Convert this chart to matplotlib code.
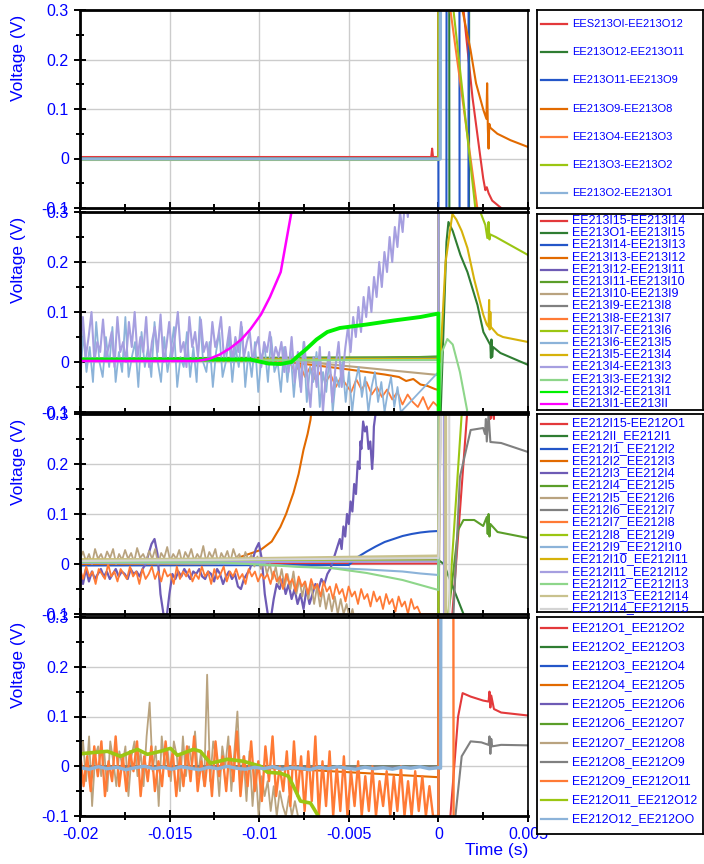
import numpy as np
import matplotlib.pyplot as plt
from matplotlib.ticker import MultipleLocator, FuncFormatter

plt.rcParams['font.family'] = ['Liberation Sans', 'DejaVu Sans']
plt.rcParams['axes.unicode_minus'] = False

# trace palette
RED = '#E3393B'
DKGREEN = '#2F7D32'
BLUE = '#2456C8'
ORANGE = '#E26A00'
PURPLE = '#6E5BB5'
GREEN = '#5B9E29'
TAN = '#B9A37F'
GRAY = '#808080'
LTORANGE = '#FF7A35'
YGREEN = '#9BC612'
LTBLUE = '#8CB3D9'
GOLD = '#D6B20A'
LAVENDER = '#A69FE0'
LTGREEN = '#8ED68A'
KHAKI = '#C9C28E'
LTGRAY = '#D4D4D4'
LIME = '#00F000'
MAGENTA = '#FF00FF'

# ---------------- panel 1 : EE213 outer ----------------
p1_labels = ['EES213OI-EE213O12', 'EE213O12-EE213O11', 'EE213O11-EE213O9', 'EE213O9-EE213O8',
             'EE213O4-EE213O3', 'EE213O3-EE213O2', 'EE213O2-EE213O1']
p1_colors = [RED, DKGREEN, BLUE, ORANGE, LTORANGE, YGREEN, LTBLUE]

p1_red_t = [-0.02, -0.012, -0.006, -0.0004, -0.00035, -0.0003, 0.0, 0.00001, 0.0013, 0.0014,
            0.0019, 0.00234, 0.0025, 0.00262, 0.0027, 0.0028, 0.003, 0.0035]
p1_red_v = [0.003, 0.003, 0.003, 0.003, 0.02, 0.003, 0.003, 0.6, 0.6, 0.3,
            0.124, 0.003, -0.04, -0.064, -0.058, -0.07, -0.085, -0.1]
p1_dkgreen_t = [-0.02, 0.0, 0.00001, 0.0006, 0.00062, 0.0017, 0.00172, 0.005]
p1_dkgreen_v = [0.0, 0.0, 0.6, 0.6, -0.6, -0.6, 0.6, 0.6]
p1_blue_t = [-0.02, 0.0, 0.00001, 0.00044, 0.00046, 0.00117, 0.00119, 0.00167, 0.00169, 0.005]
p1_blue_v = [-0.001, -0.001, -0.6, -0.6, 0.6, 0.6, -0.6, -0.6, 0.6, 0.6]
p1_orange_t = [-0.02, 0.0, 0.00001, 0.0013, 0.00134, 0.00179, 0.0021, 0.00251, 0.00268, 0.00272,
               0.00276, 0.0028, 0.00284, 0.0029, 0.00329, 0.00402, 0.00502]
p1_orange_v = [-0.002, -0.002, 0.6, 0.6, 0.3, 0.22, 0.152, 0.098, 0.08, 0.152,
               0.06, 0.02, 0.07, 0.062, 0.05, 0.037, 0.023]
p1_ltorange_t = [-0.02, 0.0, 0.00001, 0.0006, 0.00067, 0.00217, 0.0023, 0.005]
p1_ltorange_v = [-0.002, -0.002, 0.6, 0.6, 0.3, -0.1, -0.6, -0.6]
p1_ygreen_t = [-0.02, 0.0, 0.00001, 0.0007, 0.00084, 0.00206, 0.0022, 0.005]
p1_ygreen_v = [-0.003, -0.003, 0.6, 0.6, 0.3, -0.1, -0.6, -0.6]
p1_ltblue_t = [-0.02, 0.0001, 0.00012, 0.005]
p1_ltblue_v = [-0.001, -0.001, 0.6, 0.6]

# ---------------- panel 2 : EE213 inner ----------------
p2_labels = ['EE213I15-EE213I14', 'EE213O1-EE213I15', 'EE213I14-EE213I13', 'EE213I13-EE213I12',
             'EE213I12-EE213I11', 'EE213I11-EE213I10', 'EE213I10-EE213I9', 'EE213I9-EE213I8',
             'EE213I8-EE213I7', 'EE213I7-EE213I6', 'EE213I6-EE213I5', 'EE213I5-EE213I4',
             'EE213I4-EE213I3', 'EE213I3-EE213I2', 'EE213I2-EE213I1', 'EE213I1-EE213II']
p2_colors = [RED, DKGREEN, BLUE, ORANGE, PURPLE, GREEN, TAN, GRAY,
             LTORANGE, YGREEN, LTBLUE, GOLD, LAVENDER, LTGREEN, LIME, MAGENTA]

p2_red_t = [-0.02, 0.0, 0.00002, 0.005]
p2_red_v = [0.005, 0.006, 0.6, 0.6]
p2_dkgreen_t = [-0.02, -0.005, 0.0, 0.00003, 0.0001, 0.00013, 0.00045, 0.00056, 0.0008, 0.00123,
                0.00162, 0.00218, 0.00251, 0.0029, 0.00293, 0.00296, 0.003, 0.00305, 0.00346, 0.00502]
p2_dkgreen_v = [0.005, 0.006, 0.011, -0.6, -0.6, -0.1, 0.24, 0.28, 0.262, 0.214,
                0.18, 0.114, 0.06, 0.034, 0.008, 0.045, 0.01, 0.03, 0.018, -0.006]
p2_blue_t = [-0.02, 0.0, 0.00002, 0.005]
p2_blue_v = [0.004, 0.006, -0.6, -0.6]
p2_orange_t = [-0.02, -0.009, -0.007, -0.005, -0.003, -0.0022, -0.0018, -0.0014, -0.001, -0.0006,
               -0.0002, 0.0, 0.00002, 0.005]
p2_orange_v = [0.003, 0.002, -0.006, -0.015, -0.025, -0.03, -0.038, -0.034, -0.045, -0.048,
               -0.054, -0.056, 0.6, 0.6]
p2_purple_t = [-0.02, 0.0, 0.00002, 0.005]
p2_purple_v = [0.006, 0.008, -0.6, -0.6]
p2_green_t = [-0.02, 0.0, 0.00002, 0.005]
p2_green_v = [0.007, 0.01, 0.6, 0.6]
p2_tan_t = [-0.02, -0.008, -0.006, -0.004, -0.002, 0.0, 0.00002, 0.005]
p2_tan_v = [0.004, 0.003, -0.005, -0.012, -0.019, -0.026, 0.6, 0.6]
p2_gray_t = [-0.02, 0.0, 0.00002, 0.005]
p2_gray_v = [0.005, 0.007, -0.6, -0.6]
p2_ltorange_noise = [0.0, -0.02, -0.005, -0.03, -0.01, -0.035, -0.02, -0.04, -0.025, -0.05,
                     -0.03, -0.045, -0.06, -0.035, -0.055, -0.04, -0.065, -0.05, -0.07, -0.055,
                     -0.075, -0.06, -0.085, -0.065, -0.08, -0.09, -0.07, -0.095, -0.08, -0.09]
p2_ygreen_t = [-0.02, 0.0, 0.00003, 0.0023, 0.00234, 0.00262, 0.00273, 0.0028, 0.00285, 0.0029,
               0.0032, 0.005]
p2_ygreen_v = [0.004, 0.006, 0.6, 0.6, 0.3, 0.274, 0.248, 0.28, 0.245, 0.255, 0.25, 0.214]
p2_ltblue_noise = [-0.05, 0.06, -0.02, 0.03, -0.04, 0.08, 0.0, -0.03, 0.05, -0.01,
                   0.07, -0.04, 0.02, -0.02, 0.09, -0.03, 0.01, 0.04, -0.05, 0.06,
                   -0.01, 0.03, -0.03, 0.08, 0.0, -0.04, 0.05, -0.02, 0.02, 0.07,
                   -0.05, 0.01, -0.01, 0.06, -0.03, 0.03, -0.04, 0.09, 0.0, -0.02,
                   0.04, -0.05, 0.02, 0.06, -0.03, 0.0, 0.05, -0.04, 0.03, -0.01,
                   0.07, -0.05, 0.02, -0.03, 0.04, -0.06, 0.01, 0.03, -0.04, 0.05,
                   -0.02, 0.0, -0.06, 0.03, -0.04, 0.02, -0.07, 0.01, -0.05, 0.04,
                   -0.08, -0.01, -0.04, 0.02, -0.09, -0.02, -0.06, 0.01, -0.1, -0.03,
                   -0.05, 0.0, -0.08, -0.02, -0.1, -0.04, -0.01, -0.07, -0.03, -0.1,
                   -0.05, -0.02, -0.08, -0.04, -0.1, -0.06, -0.03, -0.09, -0.05, -0.1]
p2_gold_t = [-0.02, 0.0, 0.0001, 0.0004, 0.00078, 0.001, 0.0013, 0.00162, 0.002, 0.00251,
             0.0027, 0.0028, 0.00283, 0.00286, 0.0029, 0.00293, 0.0033, 0.0036, 0.005]
p2_gold_v = [0.004, 0.006, 0.0, 0.2, 0.296, 0.285, 0.262, 0.228, 0.165, 0.094,
             0.075, 0.07, 0.124, 0.065, 0.1, 0.07, 0.055, 0.05, 0.04]
p2_lav_noise_a = [0.02, 0.09, 0.01, 0.05, 0.1, 0.0, 0.04, 0.02, 0.085, 0.01,
                  0.03, 0.06, -0.01, 0.09, 0.02, 0.04, 0.0, 0.08, 0.03, 0.1,
                  0.01, 0.05, 0.02, 0.09, -0.01, 0.04, 0.07, 0.02, 0.095, 0.0,
                  0.03, 0.08, 0.01, 0.05, 0.1, 0.02, 0.04, -0.01, 0.09, 0.03,
                  0.06, 0.01, 0.085, 0.02, 0.04, 0.0, 0.08, 0.03, 0.05, 0.09,
                  0.01, 0.03, 0.07, 0.0, 0.05, 0.02, 0.08, 0.01, 0.04, 0.06,
                  0.0, 0.03, 0.05, -0.01, 0.04, 0.02, 0.06, 0.0, 0.03, 0.01, 0.04, -0.02]
p2_lav_noise_b = [0.03, -0.02, 0.05, -0.04, 0.02, -0.06, 0.04, -0.03, -0.09, 0.01,
                  -0.05, 0.03, -0.1, -0.02, 0.02, -0.08, -0.01, 0.04, -0.05, 0.02]
p2_lav_noise_c = [0.03, 0.07, 0.02, 0.09, 0.05, 0.11, 0.06, 0.13, 0.09, 0.15,
                  0.1, 0.17, 0.13, 0.2, 0.15, 0.22, 0.18, 0.25, 0.2, 0.27,
                  0.23, 0.3, 0.26, 0.33, 0.29, 0.36]
p2_ltgreen_t = [-0.02, 0.0, 0.00005, 0.0002, 0.0005, 0.0008, 0.0012, 0.0016, 0.0017]
p2_ltgreen_v = [0.003, 0.004, -0.1, 0.02, 0.046, 0.035, -0.02, -0.096, -0.2]
p2_lime_t = [-0.02, -0.0105, -0.0095, -0.0088, -0.0082, -0.0079, -0.0074, -0.0068, -0.0062, -0.0055,
             -0.004, -0.0025, -0.001, 0.0, 0.00005, 0.005]
p2_lime_v = [0.005, 0.005, -0.003, -0.004, 0.0, 0.01, 0.025, 0.045, 0.06, 0.068,
             0.075, 0.083, 0.09, 0.097, -0.6, -0.6]
p2_magenta_t = [-0.02, -0.0135, -0.0128, -0.0122, -0.0116, -0.011, -0.0105, -0.0099, -0.0094, -0.0088,
                -0.0085, -0.0082, -0.0079]
p2_magenta_v = [0.002, 0.002, 0.006, 0.015, 0.028, 0.045, 0.065, 0.095, 0.13, 0.18,
                0.24, 0.3, 0.36]

# ---------------- panel 3 : EE212 inner ----------------
p3_labels = ['EE212I15-EE212O1', 'EE212II_EE212I1', 'EE212I1_EE212I2', 'EE212I2_EE212I3',
             'EE212I3_EE212I4', 'EE212I4_EE212I5', 'EE212I5_EE212I6', 'EE212I6_EE212I7',
             'EE212I7_EE212I8', 'EE212I8_EE212I9', 'EE212I9_EE212I10', 'EE212I10_EE212I11',
             'EE212I11_EE212I12', 'EE212I12_EE212I13', 'EE212I13_EE212I14', 'EE212I14_EE212I15']
p3_colors = [RED, DKGREEN, BLUE, ORANGE, PURPLE, GREEN, TAN, GRAY,
             LTORANGE, YGREEN, LTBLUE, GOLD, LAVENDER, LTGREEN, KHAKI, LTGRAY]

p3_red_t = [-0.02, 0.0, 0.00002, 0.0007, 0.00078, 0.0016, 0.0019, 0.0028, 0.0029, 0.003,
            0.0031, 0.0032, 0.005]
p3_red_v = [0.0, 0.001, -0.6, -0.6, -0.1, 0.3, 0.6, 0.6, 0.29, 0.31,
            0.29, 0.6, 0.6]
p3_dkgreen_t = [-0.02, -0.005, 0.0, 0.0003, 0.0014, 0.0018]
p3_dkgreen_v = [0.004, 0.005, 0.008, 0.0, -0.1, -0.2]
p3_blue_t = [-0.02, -0.005, -0.0045, -0.004, -0.0035, -0.003, -0.0025, -0.002, -0.0015, -0.001,
             -0.0005, 0.0, 0.00002, 0.005]
p3_blue_v = [-0.003, -0.002, 0.014, 0.025, 0.035, 0.044, 0.05, 0.056, 0.06, 0.063,
             0.065, 0.066, 0.6, 0.6]
p3_orange_t = [-0.02, -0.0125, -0.0115, -0.01105, -0.00993, -0.0093, -0.00882, -0.0085, -0.00809, -0.0078,
               -0.00753, -0.0073, -0.00714, -0.0068]
p3_orange_v = [0.0, 0.0, 0.005, 0.014, 0.028, 0.045, 0.074, 0.1, 0.142, 0.18,
               0.228, 0.26, 0.288, 0.4]
p3_purple_noise = [-0.02, -0.04, -0.01, -0.035, -0.015, -0.03, -0.02, -0.01, -0.025, -0.015,
                   -0.03, -0.02, -0.01, -0.025, -0.015, -0.02, -0.03, -0.01, -0.02, -0.015,
                   -0.025, -0.01, 0.0, 0.02, 0.04, 0.05, 0.02, -0.06, -0.1, -0.11,
                   -0.06, -0.02, -0.03, -0.015, -0.025, -0.01, -0.02, -0.03, -0.015, -0.02,
                   -0.01, -0.025, -0.03, -0.015, -0.02, -0.035, -0.01, -0.02, -0.04, -0.025,
                   -0.015, -0.03, -0.02, -0.045, -0.05, -0.03, -0.02, -0.01, 0.01, 0.03,
                   0.042, 0.01, -0.06, -0.1, -0.11, -0.07, -0.04, -0.05, -0.03, -0.06,
                   -0.04, -0.07, -0.05, -0.08, -0.06, -0.09, -0.05, -0.08, -0.06, -0.04,
                   -0.05, -0.03, -0.04, -0.02, -0.01]
p3_purple_rise_t = [-0.0055, -0.0054, -0.0053, -0.0052, -0.0051, -0.005, -0.0049, -0.0048, -0.0047, -0.0046,
                    -0.0045, -0.0044, -0.00435, -0.0043, -0.0042, -0.0041, -0.004, -0.0039, -0.0038, -0.0037,
                    -0.00365, -0.0036, -0.0034, 0.0, 0.00002, 0.005]
p3_purple_rise_v = [0.05, 0.03, 0.075, 0.055, 0.1, 0.08, 0.125, 0.105, 0.16, 0.14,
                    0.205, 0.19, 0.245, 0.23, 0.285, 0.265, 0.275, 0.23, 0.245, 0.19,
                    0.215, 0.275, 0.33, 0.6, -0.6, -0.6]
p3_green_t = [-0.02, 0.0, 0.00002, 0.0005, 0.00056, 0.0011, 0.0014, 0.002, 0.0025, 0.0027,
              0.00275, 0.0028, 0.00285, 0.0029, 0.0033, 0.005]
p3_green_v = [0.006, 0.01, -0.6, -0.6, -0.1, 0.068, 0.088, 0.088, 0.076, 0.094,
              0.06, 0.1, 0.055, 0.08, 0.064, 0.052]
p3_tan_noise_a = [0.01, 0.025, 0.005, 0.02, 0.0, 0.03, 0.01, 0.02, 0.005, 0.025,
                  0.012, 0.03, 0.0, 0.02, 0.008, 0.028, 0.01, 0.022, 0.004, 0.032,
                  0.012, 0.02, 0.006, 0.026, 0.01, 0.03, 0.0, 0.022, 0.012, 0.034,
                  0.006, 0.02, 0.01, 0.028, 0.002, 0.024, 0.012, 0.03, 0.006, 0.02,
                  0.01, 0.036, 0.004, 0.024, 0.012, 0.03, 0.0, 0.022, 0.01, 0.026,
                  0.004, 0.03, 0.012, 0.02, 0.0, 0.024, 0.008, 0.018, -0.005, 0.015]
p3_tan_noise_b = [-0.01, 0.01, -0.02, 0.0, -0.03, -0.005, -0.04, -0.01, -0.045, -0.02,
                  -0.05, -0.015, -0.06, -0.03, -0.065, -0.035, -0.07, -0.04, -0.08, -0.045,
                  -0.085, -0.05, -0.09, -0.06, -0.095, -0.065, -0.1, -0.07, -0.1, -0.08,
                  -0.11, -0.09, -0.12, -0.1, -0.13]
p3_gray_t = [-0.02, 0.0, 0.00002, 0.0008, 0.00084, 0.0012, 0.0018, 0.0025, 0.0026, 0.00265,
             0.0027, 0.0028, 0.0029, 0.0035, 0.005]
p3_gray_v = [0.006, 0.008, -0.6, -0.6, -0.1, 0.174, 0.268, 0.272, 0.26, 0.29,
             0.245, 0.3, 0.244, 0.242, 0.224]
p3_ltorange_noise = [-0.01, -0.03, -0.005, -0.025, -0.015, -0.04, -0.01, -0.02, -0.03, 0.0,
                     -0.025, -0.015, -0.035, -0.01, -0.02, -0.03, -0.005, -0.025, -0.015, -0.04,
                     -0.01, -0.03, -0.02, -0.005, -0.03, -0.015, -0.035, -0.01, -0.025, -0.02,
                     -0.04, -0.005, -0.03, -0.015, -0.025, -0.01, -0.035, -0.02, -0.03, -0.005,
                     -0.025, -0.015, -0.04, -0.01, -0.03, -0.02, -0.005, -0.035, -0.015, -0.025,
                     -0.01, -0.03, -0.02, -0.04, -0.01, -0.025, -0.015, -0.035, -0.02, -0.03,
                     -0.02, -0.04, -0.015, -0.035, -0.025, -0.05, -0.02, -0.04, -0.03, -0.055,
                     -0.025, -0.045, -0.035, -0.06, -0.03, -0.05, -0.04, -0.065, -0.035, -0.055,
                     -0.045, -0.07, -0.04, -0.06, -0.05, -0.075, -0.045, -0.065, -0.055, -0.08,
                     -0.05, -0.07, -0.06, -0.085, -0.055, -0.075, -0.065, -0.09, -0.06, -0.08,
                     -0.07, -0.095, -0.065, -0.085, -0.075, -0.1, -0.07, -0.09, -0.085, -0.1]
p3_ygreen_t = [-0.02, 0.0, 0.00002, 0.0005, 0.00056, 0.0013, 0.0016]
p3_ygreen_v = [0.005, 0.007, -0.6, -0.6, -0.1, 0.3, 0.6]
p3_ltblue_t = [-0.02, -0.01, -0.0077, -0.006, -0.004, -0.003, -0.002, -0.001, 0.0, 0.00002, 0.005]
p3_ltblue_v = [0.002, 0.0, -0.005, -0.008, -0.011, -0.013, -0.015, -0.019, -0.022, 0.6, 0.6]
p3_gold_t = [-0.02, 0.0, 0.00002, 0.005]
p3_gold_v = [0.009, 0.012, 0.6, 0.6]
p3_lav_t = [-0.02, 0.0, 0.00002, 0.0003, 0.00032, 0.005]
p3_lav_v = [0.003, 0.005, 0.6, 0.6, -0.6, -0.6]
p3_ltgreen_t = [-0.02, -0.012, -0.0077, -0.006, -0.004, -0.002, -0.001, 0.0, 0.00002, 0.005]
p3_ltgreen_v = [0.004, 0.003, -0.006, -0.008, -0.018, -0.032, -0.042, -0.052, 0.6, 0.6]
p3_khaki_t = [-0.02, -0.01, 0.0, 0.0002, 0.0004, 0.00042, 0.005]
p3_khaki_v = [0.008, 0.011, 0.016, 0.6, 0.6, -0.6, -0.6]
p3_ltgray_t = [-0.02, 0.0, 0.0003, 0.0006, 0.00062, 0.005]
p3_ltgray_v = [0.006, 0.012, 0.6, 0.6, -0.6, -0.6]

# ---------------- panel 4 : EE212 outer ----------------
p4_labels = ['EE212O1_EE212O2', 'EE212O2_EE212O3', 'EE212O3_EE212O4', 'EE212O4_EE212O5',
             'EE212O5_EE212O6', 'EE212O6_EE212O7', 'EE212O7_EE212O8', 'EE212O8_EE212O9',
             'EE212O9_EE212O11', 'EE212O11_EE212O12', 'EE212O12_EE212OO']
p4_colors = [RED, DKGREEN, BLUE, ORANGE, PURPLE, GREEN, TAN, GRAY, LTORANGE, YGREEN, LTBLUE]

p4_red_t = [-0.02, 0.0, 0.00002, 0.0004, 0.00067, 0.0011, 0.00135, 0.0018, 0.0025, 0.0028,
            0.00285, 0.0029, 0.00295, 0.0031, 0.0035, 0.005]
p4_red_v = [0.0, 0.0, -0.6, -0.6, -0.1, 0.1, 0.147, 0.14, 0.132, 0.13,
            0.15, 0.118, 0.142, 0.115, 0.108, 0.102]
p4_dkgreen_t = [-0.02, 0.0, 0.00002, 0.005]
p4_dkgreen_v = [0.0, 0.0, -0.6, -0.6]
p4_blue_t = [-0.02, 0.0, 0.00002, 0.005]
p4_blue_v = [0.0, 0.0, -0.6, -0.6]
p4_orange_t = [-0.02, -0.0105, -0.008, -0.006, -0.004, -0.002, 0.0, 0.00002, 0.005]
p4_orange_v = [0.0, -0.002, -0.006, -0.01, -0.014, -0.018, -0.022, 0.6, 0.6]
p4_purple_t = [-0.02, 0.0, 0.00002, 0.005]
p4_purple_v = [-0.001, -0.001, 0.6, 0.6]
p4_green_t = [-0.02, 0.0, 0.00002, 0.005]
p4_green_v = [0.0, 0.0, 0.6, 0.6]
p4_tan_noise = [0.0, 0.05, -0.03, 0.06, -0.08, 0.02, 0.04, -0.02, 0.03, -0.05,
                0.05, 0.01, -0.04, 0.03, 0.0, 0.04, -0.06, 0.02, 0.05, -0.02,
                0.03, -0.04, 0.06, 0.128, -0.01, 0.04, -0.08, 0.06, 0.0, 0.03,
                -0.03, 0.05, 0.02, -0.05, 0.06, -0.02, 0.04, 0.0, 0.07, -0.02,
                0.03, -0.04, 0.184, -0.03, 0.05, 0.02, -0.06, 0.04, 0.0, 0.06,
                -0.05, 0.03, 0.11, -0.03, 0.02, -0.07, 0.03, -0.08, 0.0, -0.1,
                -0.02, -0.06, -0.03, -0.09, -0.04, -0.1, -0.05, -0.08, -0.1, -0.06,
                -0.1, -0.07, -0.1, -0.11, -0.12]
p4_gray_t = [-0.02, 0.0, 0.00002, 0.0008, 0.00095, 0.0013, 0.0018, 0.0024, 0.0028, 0.00285,
             0.0029, 0.00295, 0.003, 0.0035, 0.005]
p4_gray_v = [0.0, 0.0, -0.6, -0.6, -0.1, 0.02, 0.05, 0.048, 0.043, 0.06,
             0.025, 0.055, 0.04, 0.043, 0.042]
p4_ltorange_noise = [0.03, -0.04, 0.02, -0.05, 0.04, -0.02, 0.05, -0.06, 0.01, -0.03,
                     0.06, -0.04, 0.02, -0.05, 0.03, -0.01, 0.05, -0.06, 0.02, -0.03,
                     0.04, -0.05, 0.01, -0.04, 0.05, -0.02, 0.03, -0.06, 0.02, -0.04,
                     0.04, -0.03, 0.06, -0.05, 0.01, -0.04, 0.03, -0.06, 0.05, -0.02,
                     0.02, -0.05, 0.04, -0.03, 0.07, -0.06, 0.02, -0.04, 0.05, -0.05,
                     0.01, -0.07, 0.04, -0.03, 0.06, -0.06, 0.0, -0.05, 0.03, -0.08,
                     0.05, -0.06, 0.02, -0.09, 0.03, -0.07, 0.06, -0.1, 0.01, -0.08,
                     0.03, -0.1, 0.0, -0.09, 0.02, -0.1, -0.01, -0.08, 0.01, -0.1,
                     -0.02, -0.09, 0.0, -0.1, -0.03, -0.08, -0.01, -0.1, -0.02, -0.09,
                     0.0, -0.1, -0.03, -0.1, -0.01, -0.09, -0.02, -0.1, -0.04, -0.1]
p4_ygreen_t = [-0.02, -0.01914, -0.01847, -0.01774, -0.0168, -0.01624, -0.01551, -0.01495, -0.01456, -0.01367,
               -0.01328, -0.01272, -0.01177, -0.01088, -0.00993, -0.00954, -0.00882, -0.00837, -0.00809, -0.0077,
               -0.00714, -0.0067, -0.0063]
p4_ygreen_v = [0.025, 0.028, 0.03, 0.02, 0.034, 0.024, 0.03, 0.036, 0.022, 0.034,
               0.03, 0.006, 0.014, 0.01, 0.0, -0.012, -0.014, -0.02, -0.04, -0.07,
               -0.074, -0.1, -0.13]
p4_ltblue_noise = [-0.003, -0.006, -0.001, -0.005, -0.002, -0.007, -0.003, 0.0, -0.005, -0.002,
                   -0.006, -0.001, -0.004, -0.007, -0.002, -0.005, 0.0, -0.004, -0.006, -0.002,
                   -0.005, -0.001, -0.006, -0.003, -0.004, -0.007, -0.002, -0.005, -0.001, -0.004,
                   -0.006, -0.002, -0.005, -0.003, -0.006, -0.002, -0.004, -0.001, -0.005, -0.003]


def cat(*parts):
    return np.concatenate([np.asarray(p, dtype=float) for p in parts])


p1_series = [(p1_red_t, p1_red_v), (p1_dkgreen_t, p1_dkgreen_v), (p1_blue_t, p1_blue_v),
             (p1_orange_t, p1_orange_v), (p1_ltorange_t, p1_ltorange_v),
             (p1_ygreen_t, p1_ygreen_v), (p1_ltblue_t, p1_ltblue_v)]

p2_series = [
    (p2_red_t, p2_red_v), (p2_dkgreen_t, p2_dkgreen_v), (p2_blue_t, p2_blue_v),
    (p2_orange_t, p2_orange_v), (p2_purple_t, p2_purple_v), (p2_green_t, p2_green_v),
    (p2_tan_t, p2_tan_v), (p2_gray_t, p2_gray_v),
    (cat([-0.02, -0.0086], np.linspace(-0.0083, 0.0, len(p2_ltorange_noise)), [0.00002, 0.005]),
     cat([0.002, 0.002], p2_ltorange_noise, [0.6, 0.6])),
    (p2_ygreen_t, p2_ygreen_v),
    (cat(np.linspace(-0.02, -0.0021, len(p2_ltblue_noise)), [0.0, 0.00003, 0.005]),
     cat(p2_ltblue_noise, [-0.02, 0.6, 0.6])),
    (p2_gold_t, p2_gold_v),
    (cat(np.linspace(-0.02, -0.0086, len(p2_lav_noise_a)),
         np.linspace(-0.00854, -0.00522, len(p2_lav_noise_b)),
         np.linspace(-0.00519, -0.00156, len(p2_lav_noise_c)), [0.0, 0.00002, 0.005]),
     cat(p2_lav_noise_a, p2_lav_noise_b, p2_lav_noise_c, [0.6, -0.6, -0.6])),
    (p2_ltgreen_t, p2_ltgreen_v), (p2_lime_t, p2_lime_v), (p2_magenta_t, p2_magenta_v)]

p3_series = [
    (p3_red_t, p3_red_v), (p3_dkgreen_t, p3_dkgreen_v), (p3_blue_t, p3_blue_v),
    (p3_orange_t, p3_orange_v),
    (cat(np.linspace(-0.02, -0.00603, len(p3_purple_noise)), p3_purple_rise_t),
     cat(p3_purple_noise, p3_purple_rise_v)),
    (p3_green_t, p3_green_v),
    (cat(np.linspace(-0.02, -0.0101, len(p3_tan_noise_a)),
         np.linspace(-0.0099, -0.0043, len(p3_tan_noise_b)), [0.0, 0.0002, 0.005]),
     cat(p3_tan_noise_a, p3_tan_noise_b, [-0.2, 0.6, 0.6])),
    (p3_gray_t, p3_gray_v),
    (cat(np.linspace(-0.02, -0.001, len(p3_ltorange_noise)), [0.0, 0.00002, 0.005]),
     cat(p3_ltorange_noise, [-0.1, -0.6, -0.6])),
    (p3_ygreen_t, p3_ygreen_v), (p3_ltblue_t, p3_ltblue_v), (p3_gold_t, p3_gold_v),
    (p3_lav_t, p3_lav_v), (p3_ltgreen_t, p3_ltgreen_v), (p3_khaki_t, p3_khaki_v),
    (p3_ltgray_t, p3_ltgray_v)]

p4_series = [
    (p4_red_t, p4_red_v), (p4_dkgreen_t, p4_dkgreen_v), (p4_blue_t, p4_blue_v),
    (p4_orange_t, p4_orange_v), (p4_purple_t, p4_purple_v), (p4_green_t, p4_green_v),
    (cat(np.linspace(-0.02, -0.0075, len(p4_tan_noise)), [-0.007, 0.0, 0.00002, 0.005]),
     cat(p4_tan_noise, [-0.15, -0.15, 0.6, 0.6])),
    (p4_gray_t, p4_gray_v),
    (cat(np.linspace(-0.02, -0.0003, len(p4_ltorange_noise)), [0.0, 0.00002, 0.00083, 0.00086, 0.005]),
     cat(p4_ltorange_noise, [-0.1, 0.6, 0.6, -0.6, -0.6])),
    (p4_ygreen_t, p4_ygreen_v),
    (cat(np.linspace(-0.02, 0.0, len(p4_ltblue_noise)), [0.00012, 0.00015, 0.005]),
     cat(p4_ltblue_noise, [-0.004, 0.6, 0.6]))]

panels = [(p1_labels, p1_colors, p1_series), (p2_labels, p2_colors, p2_series),
          (p3_labels, p3_colors, p3_series), (p4_labels, p4_colors, p4_series)]

# ---------------- layout (pixels of a 704 x 864 canvas) ----------------
W, H = 704, 864
panel_boxes = [(80, 10, 528, 208), (80, 212, 528, 412), (80, 414, 528, 614), (80, 617, 528, 816)]
legend_boxes = [(537, 10, 703, 208), (537, 214, 703, 410), (537, 414, 703, 612), (537, 617, 703, 834)]
legend_rows = [(14, 28.2, 8.0), (7, 12.2, 9.0), (10, 12.3, 9.0), (11, 19.1, 8.8)]
thick = {'EE213O2-EE213O1': 2.4, 'EE213I2-EE213I1': 2.8, 'EE213I1-EE213II': 1.8,
         'EE212I13_EE212I14': 2.2, 'EE212O11_EE212O12': 2.6, 'EE212O12_EE212OO': 2.4,
         'EE212O9_EE212O11': 1.7, 'EE213I4-EE213I3': 1.5, 'EE212I3_EE212I4': 1.6}
noisy = {'EE213I6-EE213I5', 'EE213I8-EE213I7', 'EE212I5_EE212I6', 'EE212I7_EE212I8',
         'EE212O7_EE212O8'}


def fig_box(left, top, right, bottom):
    return [left / W, 1 - bottom / H, (right - left) / W, (bottom - top) / H]


def num(v, _pos):
    return '%g' % round(v, 5)


fig = plt.figure(figsize=(7.04, 8.64), dpi=100)
fig.patch.set_facecolor('white')

for k, (labels, colors, series) in enumerate(panels):
    ax = fig.add_axes(fig_box(*panel_boxes[k]))
    for lab, c, (t, v) in zip(labels, colors, series):
        lw = thick.get(lab, 1.3 if lab in noisy else 1.5)
        ax.plot(t, v, color=c, lw=lw)
    ax.set_xlim(-0.02, 0.005)
    ax.set_ylim(-0.1, 0.3)
    ax.xaxis.set_major_locator(MultipleLocator(0.005))
    ax.xaxis.set_minor_locator(MultipleLocator(0.0025))
    ax.yaxis.set_major_locator(MultipleLocator(0.1))
    ax.yaxis.set_minor_locator(MultipleLocator(0.05))
    ax.xaxis.set_major_formatter(FuncFormatter(num))
    ax.yaxis.set_major_formatter(FuncFormatter(num))
    ax.grid(True, which='major', color='#cccccc', lw=1.0)
    ax.set_axisbelow(True)
    ax.tick_params(which='both', direction='inout', color='black', width=1.4,
                   labelcolor='blue', labelsize=11.5)
    ax.tick_params(which='major', length=9)
    ax.tick_params(which='minor', length=6)
    for side in ['left', 'bottom', 'top']:
        ax.spines[side].set_linewidth(2.0)
    ax.spines['right'].set_linewidth(1.2)
    ax.set_ylabel('Voltage (V)', color='blue', fontsize=12.5)
    ax.yaxis.set_label_coords(-0.12, 0.76)
    if k < 3:
        ax.tick_params(labelbottom=False)
    else:
        ax.set_xlabel('Time (s)', color='blue', fontsize=12.5, loc='right', labelpad=1)

    # legend box to the right of the panel
    lb = legend_boxes[k]
    lax = fig.add_axes(fig_box(*lb))
    lax.set_facecolor('white')
    lax.set_xlim(0, lb[2] - lb[0])
    lax.set_ylim(lb[3] - lb[1], 0)
    lax.set_xticks([])
    lax.set_yticks([])
    for s in lax.spines.values():
        s.set_linewidth(1.3)
    y0, step, fs = legend_rows[k]
    for i, (lab, c) in enumerate(zip(labels, colors)):
        y = y0 + i * step
        lax.plot([4, 30], [y, y], color=c, lw=1.6)
        lax.text(35, y, lab, color='blue', fontsize=fs, va='center', ha='left')

fig.savefig('out.png', dpi=100, facecolor='white')
